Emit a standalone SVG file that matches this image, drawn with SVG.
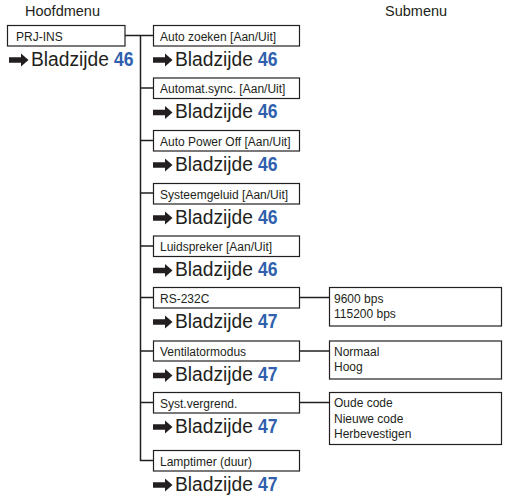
<svg xmlns="http://www.w3.org/2000/svg" width="507" height="498" viewBox="0 0 507 498">
<style>
text{font-family:"Liberation Sans",Arial,sans-serif;fill:#231f20}
.hd{font-size:14.5px}
.lb{font-size:12px}
.pg{font-size:20px}
.nm{font-size:20px;font-weight:bold;fill:#2f5fad}
.bx{fill:#fff;stroke:#231f20;stroke-width:1.2}
.ln{fill:none;stroke:#231f20;stroke-width:1.5}
.ar{fill:#231f20}
</style>
<defs>
<path id="arr" d="M0,-2.7H12V-6.5L19.5,0L12,6.5V2.7H0Z"/>
</defs>
<text class="hd" x="25" y="15.5">Hoofdmenu</text>
<text class="hd" x="385" y="15.5">Submenu</text>
<g id="connectors">
<path class="ln" d="M125,35.5H153M140.5,35.5V460.5H153M140.5,88H153M140.5,140.5H153M140.5,193H153M140.5,246H153M140.5,297.5H153M140.5,351H153M140.5,402.5H153"/>
<path class="ln" d="M299,297.5H329M299,351H329M299,402.5H329"/>
</g>
<g id="main">
<rect class="bx" x="7.5" y="25.5" width="117.5" height="20.5"/>
<text class="lb" x="16" y="40.5">PRJ-INS</text>
<use href="#arr" class="ar" x="9" y="60"/>
<text class="pg" x="31" y="65.5" textLength="78" lengthAdjust="spacingAndGlyphs">Bladzijde</text>
<text class="nm" x="114" y="65.5" textLength="19.5" lengthAdjust="spacingAndGlyphs">46</text>
</g>
<g id="n1">
<rect class="bx" x="153.5" y="25.5" width="146" height="20.5"/>
<text class="lb" x="160" y="40.5">Auto zoeken [Aan/Uit]</text>
<use href="#arr" class="ar" x="153" y="60"/>
<text class="pg" x="175" y="65.5" textLength="78" lengthAdjust="spacingAndGlyphs">Bladzijde</text>
<text class="nm" x="258" y="65.5" textLength="19.5" lengthAdjust="spacingAndGlyphs">46</text>
</g>
<g id="n2">
<rect class="bx" x="153.5" y="78" width="146" height="20.5"/>
<text class="lb" x="160" y="93">Automat.sync. [Aan/Uit]</text>
<use href="#arr" class="ar" x="153" y="112.5"/>
<text class="pg" x="175" y="118" textLength="78" lengthAdjust="spacingAndGlyphs">Bladzijde</text>
<text class="nm" x="258" y="118" textLength="19.5" lengthAdjust="spacingAndGlyphs">46</text>
</g>
<g id="n3">
<rect class="bx" x="153.5" y="130.5" width="146" height="20.5"/>
<text class="lb" x="160" y="145.5">Auto Power Off [Aan/Uit]</text>
<use href="#arr" class="ar" x="153" y="165"/>
<text class="pg" x="175" y="170.5" textLength="78" lengthAdjust="spacingAndGlyphs">Bladzijde</text>
<text class="nm" x="258" y="170.5" textLength="19.5" lengthAdjust="spacingAndGlyphs">46</text>
</g>
<g id="n4">
<rect class="bx" x="153.5" y="183.5" width="146" height="20.5"/>
<text class="lb" x="160" y="198.5">Systeemgeluid [Aan/Uit]</text>
<use href="#arr" class="ar" x="153" y="218"/>
<text class="pg" x="175" y="223.5" textLength="78" lengthAdjust="spacingAndGlyphs">Bladzijde</text>
<text class="nm" x="258" y="223.5" textLength="19.5" lengthAdjust="spacingAndGlyphs">46</text>
</g>
<g id="n5">
<rect class="bx" x="153.5" y="236" width="146" height="20.5"/>
<text class="lb" x="160" y="251">Luidspreker [Aan/Uit]</text>
<use href="#arr" class="ar" x="153" y="270.5"/>
<text class="pg" x="175" y="276" textLength="78" lengthAdjust="spacingAndGlyphs">Bladzijde</text>
<text class="nm" x="258" y="276" textLength="19.5" lengthAdjust="spacingAndGlyphs">46</text>
</g>
<g id="n6">
<rect class="bx" x="153.5" y="287.5" width="146" height="20.5"/>
<text class="lb" x="160" y="302.5">RS-232C</text>
<use href="#arr" class="ar" x="153" y="322"/>
<text class="pg" x="175" y="327.5" textLength="78" lengthAdjust="spacingAndGlyphs">Bladzijde</text>
<text class="nm" x="258" y="327.5" textLength="19.5" lengthAdjust="spacingAndGlyphs">47</text>
</g>
<g id="n7">
<rect class="bx" x="153.5" y="341" width="146" height="20"/>
<text class="lb" x="160" y="355.5">Ventilatormodus</text>
<use href="#arr" class="ar" x="153" y="375.5"/>
<text class="pg" x="175" y="381" textLength="78" lengthAdjust="spacingAndGlyphs">Bladzijde</text>
<text class="nm" x="258" y="381" textLength="19.5" lengthAdjust="spacingAndGlyphs">47</text>
</g>
<g id="n8">
<rect class="bx" x="153.5" y="392.5" width="146" height="20.5"/>
<text class="lb" x="160" y="407.5">Syst.vergrend.</text>
<use href="#arr" class="ar" x="153" y="427"/>
<text class="pg" x="175" y="432.5" textLength="78" lengthAdjust="spacingAndGlyphs">Bladzijde</text>
<text class="nm" x="258" y="432.5" textLength="19.5" lengthAdjust="spacingAndGlyphs">47</text>
</g>
<g id="n9">
<rect class="bx" x="153.5" y="450.5" width="146" height="20.5"/>
<text class="lb" x="160" y="465.5">Lamptimer (duur)</text>
<use href="#arr" class="ar" x="153" y="485"/>
<text class="pg" x="175" y="490.5" textLength="78" lengthAdjust="spacingAndGlyphs">Bladzijde</text>
<text class="nm" x="258" y="490.5" textLength="19.5" lengthAdjust="spacingAndGlyphs">47</text>
</g>
<g id="s6">
<rect class="bx" x="329.5" y="287.5" width="172" height="38.5"/>
<text class="lb" x="334" y="302.5">9600 bps</text>
<text class="lb" x="334" y="317.5">115200 bps</text>
</g>
<g id="s7">
<rect class="bx" x="329.5" y="341" width="172" height="38"/>
<text class="lb" x="334" y="355.5">Normaal</text>
<text class="lb" x="334" y="371">Hoog</text>
</g>
<g id="s8">
<rect class="bx" x="329.5" y="392.5" width="172" height="52"/>
<text class="lb" x="334" y="407">Oude code</text>
<text class="lb" x="334" y="422.5">Nieuwe code</text>
<text class="lb" x="334" y="437.5">Herbevestigen</text>
</g>
</svg>
